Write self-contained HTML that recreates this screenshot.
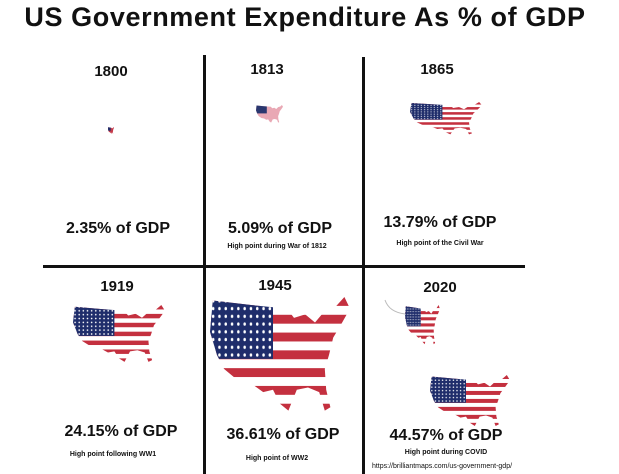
<!DOCTYPE html>
<html><head><meta charset="utf-8"><style>
body{margin:0;width:619px;height:474px;background:#fff;position:relative;overflow:hidden;font-family:"Liberation Sans",Arial,sans-serif;}
.t{position:absolute;font-weight:bold;color:#111;white-space:nowrap;transform:translateX(-50%);}
.ln{position:absolute;background:#111;}
svg.m{position:absolute;}
</style></head><body>
<svg width="0" height="0" style="position:absolute">
<defs>
<clipPath id="us" clipPathUnits="objectBoundingBox">
<polygon points="0.02,0.03 0.3,0.07 0.55,0.1 0.6,0.18 0.68,0.15 0.75,0.22 0.82,0.12 0.9,0.08 0.96,0 1,0.1 0.93,0.25 0.88,0.35 0.85,0.5 0.82,0.62 0.83,0.8 0.86,0.95 0.82,0.98 0.78,0.82 0.7,0.78 0.62,0.8 0.56,0.98 0.5,0.92 0.45,0.8 0.38,0.82 0.3,0.75 0.2,0.72 0.1,0.62 0.05,0.5 0,0.3"/>
</clipPath>
<pattern id="dots" x="0" y="0" width="4.5" height="4" patternUnits="userSpaceOnUse"><rect width="4.5" height="4" fill="#1f2d6b"/><ellipse cx="2.25" cy="2" rx="0.9" ry="0.9" fill="#fff"/></pattern>
<g id="flag"><rect width="100" height="60" fill="#fff"/><g fill="#c4303f"><rect y="0" width="100" height="4.6"/><rect y="9.2" width="100" height="4.6"/><rect y="18.4" width="100" height="4.6"/><rect y="27.6" width="100" height="4.6"/><rect y="36.8" width="100" height="4.6"/><rect y="46" width="100" height="4.6"/><rect y="55.2" width="100" height="4.8"/></g><rect width="45" height="32" fill="url(#dots)"/></g>
</defs></svg>

<div class="t" style="left:305px;top:2px;font-size:27px;letter-spacing:0.6px">US Government Expenditure As % of GDP</div>

<div class="ln" style="left:203px;top:55px;width:3px;height:419px"></div>
<div class="ln" style="left:362px;top:57px;width:3px;height:417px"></div>
<div class="ln" style="left:43px;top:265px;width:482px;height:3px"></div>

<div class="t" style="left:111px;top:63px;font-size:15px">1800</div>
<div class="t" style="left:267px;top:61px;font-size:15px">1813</div>
<div class="t" style="left:437px;top:61px;font-size:15px">1865</div>
<div class="t" style="left:117px;top:278px;font-size:15px">1919</div>
<div class="t" style="left:275px;top:277px;font-size:15px">1945</div>
<div class="t" style="left:440px;top:279px;font-size:15px">2020</div>

<div class="t" style="left:118px;top:220px;font-size:16px">2.35% of GDP</div>
<div class="t" style="left:280px;top:220px;font-size:16px">5.09% of GDP</div>
<div class="t" style="left:277px;top:243px;font-size:7px">High point during War of 1812</div>
<div class="t" style="left:440px;top:214px;font-size:16px">13.79% of GDP</div>
<div class="t" style="left:440px;top:240px;font-size:7px">High point of the Civil War</div>

<div class="t" style="left:121px;top:423px;font-size:16px">24.15% of GDP</div>
<div class="t" style="left:113px;top:451px;font-size:7px">High point following WW1</div>
<div class="t" style="left:283px;top:426px;font-size:16px">36.61% of GDP</div>
<div class="t" style="left:277px;top:455px;font-size:7px">High point of WW2</div>
<div class="t" style="left:446px;top:427px;font-size:16px">44.57% of GDP</div>
<div class="t" style="left:446px;top:449px;font-size:7px">High point during COVID</div>
<div class="t" style="left:442px;top:463px;font-size:7px;font-weight:normal">https://brilliantmaps.com/us-government-gdp/</div>

<svg class="m" style="left:108px;top:127px" width="6" height="7" viewBox="0 0 100 60" preserveAspectRatio="none"><g clip-path="url(#us)"><rect width="100" height="60" fill="#c43a4a"/><rect width="45" height="32" fill="#1f2d6b"/></g></svg>

<svg class="m" style="left:256px;top:105px" width="27" height="18" viewBox="0 0 100 60" preserveAspectRatio="none"><g clip-path="url(#us)"><rect width="100" height="60" fill="#e9a8b4"/><rect width="40" height="28" fill="#2a376f"/></g></svg>

<svg class="m" style="left:410px;top:102px" width="72" height="33" viewBox="0 0 100 60" preserveAspectRatio="none"><g clip-path="url(#us)"><use href="#flag"/></g></svg>

<svg class="m" style="left:73px;top:305px" width="92" height="58" viewBox="0 0 100 60" preserveAspectRatio="none"><g clip-path="url(#us)"><use href="#flag"/></g></svg>

<svg class="m" style="left:210px;top:297px" width="140" height="116" viewBox="0 0 100 60" preserveAspectRatio="none"><g clip-path="url(#us)"><use href="#flag"/></g></svg>

<svg class="m" style="left:405px;top:305px" width="35" height="40" viewBox="0 0 100 60" preserveAspectRatio="none"><g clip-path="url(#us)"><use href="#flag"/></g></svg>
<svg class="m" style="left:383px;top:298px" width="30" height="20"><path d="M2,2 Q6,14 22,16" stroke="#bbb" fill="none" stroke-width="1"/></svg>

<svg class="m" style="left:430px;top:375px" width="80" height="52" viewBox="0 0 100 60" preserveAspectRatio="none"><g clip-path="url(#us)"><use href="#flag"/></g></svg>
</body></html>
